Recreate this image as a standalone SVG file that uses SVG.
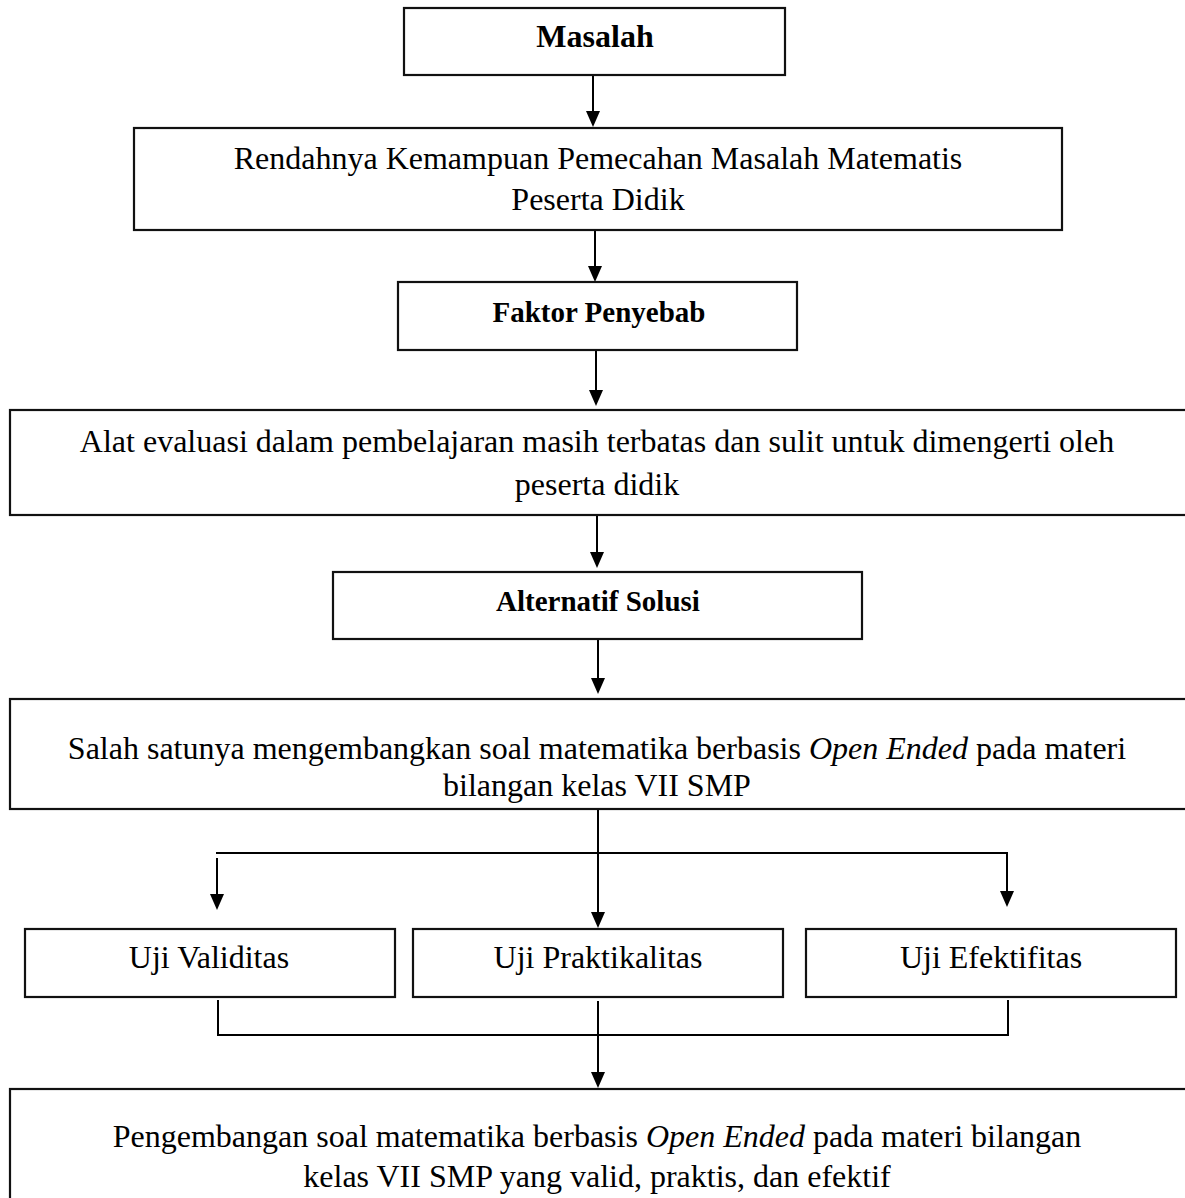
<svg xmlns="http://www.w3.org/2000/svg" width="1185" height="1198" viewBox="0 0 1185 1198">
<style>
.box{fill:#fff;stroke:#111;stroke-width:2.2}
.ln{fill:none;stroke:#000;stroke-width:2}
.t{font-family:"Liberation Serif","Times New Roman",serif;font-size:32px;fill:#000;text-anchor:middle}
.b{font-family:"Liberation Serif","Times New Roman",serif;font-weight:bold;font-size:29px;fill:#000;text-anchor:middle}
.i{font-style:italic}
</style>
<defs>
<marker id="ah" viewBox="0 0 16 14" refX="8" refY="7" markerWidth="16" markerHeight="14" markerUnits="userSpaceOnUse" orient="auto">
<path d="M0,0 L16,7 L0,14 z" fill="#000"/>
</marker>
</defs>
<rect width="1185" height="1198" fill="#fff"/>
<g id="connectors">
<line class="ln" x1="593" y1="75" x2="593" y2="119" marker-end="url(#ah)"/>
<line class="ln" x1="595" y1="230" x2="595" y2="274" marker-end="url(#ah)"/>
<line class="ln" x1="596" y1="350" x2="596" y2="398" marker-end="url(#ah)"/>
<line class="ln" x1="597" y1="515" x2="597" y2="560" marker-end="url(#ah)"/>
<line class="ln" x1="598" y1="639" x2="598" y2="686" marker-end="url(#ah)"/>
<line class="ln" x1="598" y1="809" x2="598" y2="920" marker-end="url(#ah)"/>
<line class="ln" x1="216" y1="853" x2="1008" y2="853"/>
<line class="ln" x1="217" y1="858" x2="217" y2="902" marker-end="url(#ah)"/>
<line class="ln" x1="1007" y1="853" x2="1007" y2="899" marker-end="url(#ah)"/>
<polyline class="ln" points="218,1000 218,1035 1008,1035 1008,1000"/>
<line class="ln" x1="598" y1="1001" x2="598" y2="1080" marker-end="url(#ah)"/>
</g>
<g id="masalah">
<rect class="box" x="404" y="8" width="381" height="67"/>
<text class="b" x="595" y="47" style="font-size:32px">Masalah</text>
</g>
<g id="rendahnya">
<rect class="box" x="134" y="128" width="928" height="102"/>
<text class="t" x="598" y="169">Rendahnya Kemampuan Pemecahan Masalah Matematis</text>
<text class="t" x="598" y="210">Peserta Didik</text>
</g>
<g id="faktor">
<rect class="box" x="398" y="282" width="399" height="68"/>
<text class="b" x="599" y="322">Faktor Penyebab</text>
</g>
<g id="alat">
<rect class="box" x="10" y="410" width="1185" height="105"/>
<text class="t" x="597" y="452">Alat evaluasi dalam pembelajaran masih terbatas dan sulit untuk dimengerti oleh</text>
<text class="t" x="597" y="495">peserta didik</text>
</g>
<g id="alternatif">
<rect class="box" x="333" y="572" width="529" height="67"/>
<text class="b" x="598" y="611">Alternatif Solusi</text>
</g>
<g id="salah">
<rect class="box" x="10" y="699" width="1185" height="110"/>
<text class="t" x="597" y="759">Salah satunya mengembangkan soal matematika berbasis <tspan class="i">Open Ended</tspan> pada materi</text>
<text class="t" x="597" y="796">bilangan kelas VII SMP</text>
</g>
<g id="validitas">
<rect class="box" x="25" y="929" width="370" height="68"/>
<text class="t" x="209" y="968">Uji Validitas</text>
</g>
<g id="praktikalitas">
<rect class="box" x="413" y="929" width="370" height="68"/>
<text class="t" x="598" y="968">Uji Praktikalitas</text>
</g>
<g id="efektifitas">
<rect class="box" x="806" y="929" width="370" height="68"/>
<text class="t" x="991" y="968">Uji Efektifitas</text>
</g>
<g id="pengembangan">
<rect class="box" x="10" y="1089" width="1185" height="130"/>
<text class="t" x="597" y="1147">Pengembangan soal matematika berbasis <tspan class="i">Open Ended</tspan> pada materi bilangan</text>
<text class="t" x="597" y="1187">kelas VII SMP yang valid, praktis, dan efektif</text>
</g>
</svg>
